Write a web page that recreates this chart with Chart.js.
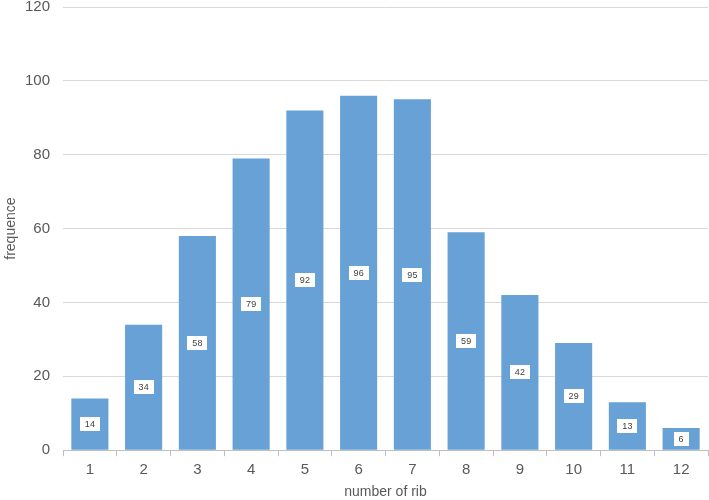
<!DOCTYPE html>
<html>
<head>
<meta charset="utf-8">
<script src="https://cdn.jsdelivr.net/npm/chart.js@4.4.1/dist/chart.umd.min.js"></script>
<style>
  html, body { margin: 0; padding: 0; background: #fff; overflow: hidden; }
  #wrap { width: 709px; height: 516px; margin-top: -15px; }
</style>
</head>
<body>
<div id="wrap"><canvas id="ribChart"></canvas></div>
<script>
const ribs = ['1', '2', '3', '4', '5', '6', '7', '8', '9', '10', '11', '12'];
const frequence = [14, 34, 58, 79, 92, 96, 95, 59, 42, 29, 13, 6];
const yTicks = [0, 20, 40, 60, 80, 100, 120];

// white boxes with the value in the middle of every bar
const boxLabels = {
    id: 'boxLabels',
    afterDatasetsDraw(chart) {
        const ctx = chart.ctx;
        const meta = chart.getDatasetMeta(0);
        ctx.save();
        ctx.font = '9px "Liberation Sans", Arial, sans-serif';
        ctx.textAlign = 'center';
        ctx.textBaseline = 'middle';
        meta.data.forEach((bar, i) => {
            const txt = String(frequence[i]);
            const cy = (bar.y + bar.base) / 2;
            const w = ctx.measureText(txt).width + 10;
            const h = 14;
            ctx.fillStyle = '#ffffff';
            ctx.fillRect(Math.round(bar.x - w / 2), Math.round(cy - h / 2), Math.round(w), h);
            ctx.fillStyle = '#404040';
            ctx.fillText(txt, bar.x, cy + 0.5);
        });
        ctx.restore();
    }
};

const data = {
    labels: ribs,
    datasets: [{
        label: 'frequence',
        data: frequence,
        backgroundColor: '#67a1d6',
        borderWidth: 0,
        categoryPercentage: 1,
        barPercentage: 0.69
    }]
};

const config = {
    type: 'bar',
    data: data,
    options: {
        responsive: true,
        maintainAspectRatio: false,
        animation: false,
        layout: { padding: { top: 0, right: 1, bottom: 0, left: 3 } },
        plugins: {
            legend: { display: false },
            tooltip: { enabled: false }
        },
        scales: {
            x: {
                grid: {
                    display: true,
                    offset: true,
                    drawOnChartArea: false,
                    drawTicks: true,
                    tickLength: 6,
                    color: '#bfbfbf'
                },
                border: { display: true, color: '#bfbfbf', width: 1 },
                ticks: {
                    color: '#595959',
                    font: { family: '"Liberation Sans", Arial, sans-serif', size: 15 },
                    padding: 5
                },
                title: {
                    display: true,
                    text: 'number of rib',
                    color: '#595959',
                    font: { family: '"Liberation Sans", Arial, sans-serif', size: 14 },
                    padding: { top: 0, bottom: 0 }
                }
            },
            y: {
                min: 0,
                max: 120,
                afterBuildTicks(scale) {
                    scale.ticks = yTicks.map(v => ({ value: v }));
                },
                afterFit(scale) {
                    scale.width = 60;
                },
                grid: {
                    color: '#d9d9d9',
                    drawTicks: false
                },
                border: { display: false },
                ticks: {
                    color: '#595959',
                    font: { family: '"Liberation Sans", Arial, sans-serif', size: 15 },
                    padding: 13
                },
                title: {
                    display: true,
                    text: 'frequence',
                    color: '#595959',
                    font: { family: '"Liberation Sans", Arial, sans-serif', size: 14 },
                    padding: { top: 0, bottom: 0 }
                }
            }
        }
    },
    plugins: [boxLabels]
};

const myChart = new Chart(document.getElementById('ribChart'), config);
</script>
</body>
</html>
